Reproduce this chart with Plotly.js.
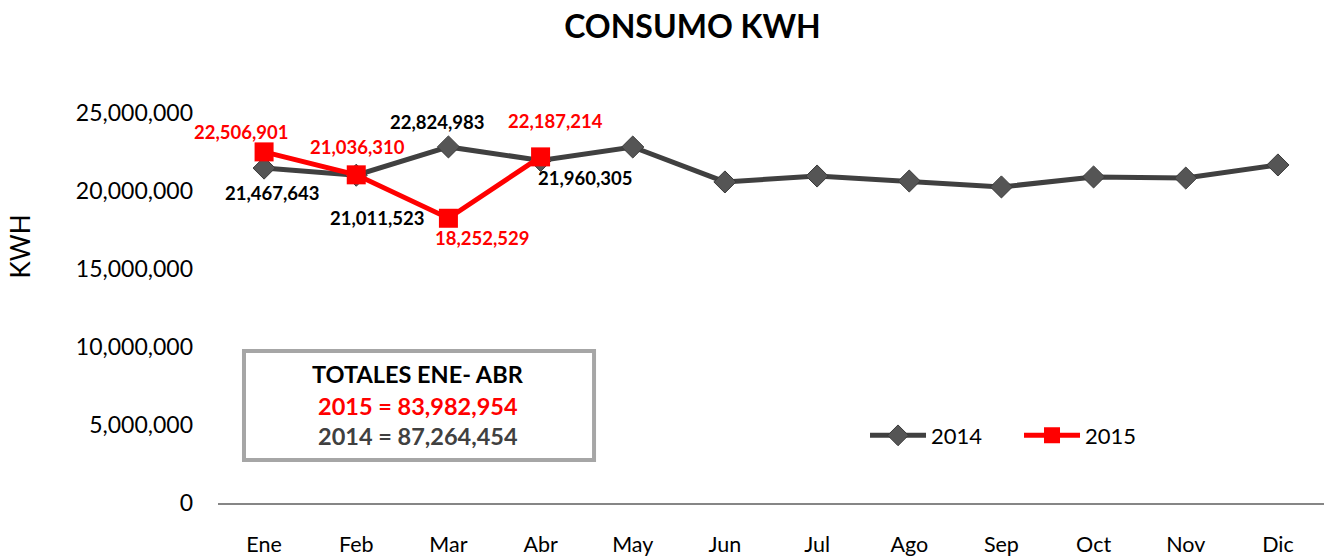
<!DOCTYPE html>
<html>
<head>
<meta charset="utf-8">
<script src="https://cdn.plot.ly/plotly-3.0.1.min.js"></script>
<style>html,body{margin:0;padding:0;background:#fff;}#chart{width:1324px;height:559px;}</style>
</head>
<body>
<div id="chart"></div>
<script>
const months = ['Ene','Feb','Mar','Abr','May','Jun','Jul','Ago','Sep','Oct','Nov','Dic'];
const kwh2014 = [21467643, 21011523, 22824983, 21960305, 22820000, 20580000, 20960000, 20640000, 20260000, 20900000, 20830000, 21670000];
const kwh2015 = [22506901, 21036310, 18252529, 22187214];
const labeled2014 = 4; // first months carrying value labels

// label offsets (pixels) relative to each point
const off2014 = [[8, -25], [21, -43], [-11, 25], [45, -18]];
const off2015 = [[-23, 20], [1, 28], [34, -20], [15, 36]];

const fmt = v => v.toLocaleString('en-US');
const sum = a => a.reduce((s, v) => s + v, 0);
const total2014 = sum(kwh2014.slice(0, kwh2015.length));
const total2015 = sum(kwh2015);

const FONT = 'Lato, "Open Sans", sans-serif';
const GRAY = '#404040';
const RED = '#ff0000';

const traces = [
  {
    x: months, y: kwh2014, name: '2014', type: 'scatter', mode: 'lines+markers',
    line: {color: GRAY, width: 5},
    marker: {symbol: 'diamond', size: 17, color: '#555555', line: {color: '#3a3a3a', width: 1}},
    hoverinfo: 'x+y'
  },
  {
    x: months.slice(0, kwh2015.length), y: kwh2015, name: '2015', type: 'scatter', mode: 'lines+markers',
    line: {color: RED, width: 5},
    marker: {symbol: 'square', size: 19, color: RED},
    hoverinfo: 'x+y'
  }
];

const annotations = [];
for (let i = 0; i < labeled2014; i++) {
  annotations.push({x: months[i], y: kwh2014[i], xref: 'x', yref: 'y', text: fmt(kwh2014[i]),
    showarrow: false, xshift: off2014[i][0], yshift: off2014[i][1], xanchor: 'center', yanchor: 'middle',
    font: {family: FONT, size: 18.5, color: '#000000', weight: 'bold'}});
}
for (let i = 0; i < kwh2015.length; i++) {
  annotations.push({x: months[i], y: kwh2015[i], xref: 'x', yref: 'y', text: fmt(kwh2015[i]),
    showarrow: false, xshift: off2015[i][0], yshift: off2015[i][1], xanchor: 'center', yanchor: 'middle',
    font: {family: FONT, size: 18.5, color: RED, weight: 'bold'}});
}
// y axis title
annotations.push({x: -0.179, y: 0.658, xref: 'paper', yref: 'paper', text: 'KWH', textangle: -90,
  xanchor: 'center', yanchor: 'middle',
  showarrow: false, font: {family: FONT, size: 26, color: '#000000'}});
// totals box text
const boxText = [
  {y: 0.330, text: 'TOTALES ENE- ABR', color: '#000000'},
  {y: 0.248, text: '2015 = ' + fmt(total2015), color: RED},
  {y: 0.171, text: '2014 = ' + fmt(total2014), color: GRAY}
];
boxText.forEach(b => annotations.push({x: 0.181, y: b.y, xref: 'paper', yref: 'paper', text: b.text,
  xanchor: 'center', yanchor: 'middle', showarrow: false,
  font: {family: FONT, size: 23.5, color: b.color, weight: 'bold'}}));

const layout = {
  width: 1324, height: 559,
  margin: {l: 218, r: 0, t: 113, b: 56},
  paper_bgcolor: '#ffffff', plot_bgcolor: '#ffffff',
  font: {family: FONT, color: '#000000'},
  title: {text: 'CONSUMO KWH', x: 0.523, xref: 'container', xanchor: 'center', y: 0.952, yref: 'container', yanchor: 'middle',
    font: {family: FONT, size: 32, color: '#000000', weight: 'bold'}},
  xaxis: {type: 'category', range: [-0.5, 11.5], showgrid: false, zeroline: false,
    showline: true, linecolor: '#868686', linewidth: 2, ticks: '',
    tickfont: {family: FONT, size: 21.5, color: '#000000'}, ticklabelstandoff: 21, fixedrange: true},
  yaxis: {range: [0, 25000000], dtick: 5000000, tickformat: ',d', showgrid: false, zeroline: false,
    showline: false, ticks: '', tickfont: {family: FONT, size: 23, color: '#000000'},
    ticklabelstandoff: 24, fixedrange: true},
  showlegend: true,
  legend: {orientation: 'h', x: 0.585, y: 0.173, xanchor: 'left', yanchor: 'middle',
    font: {family: FONT, size: 22, color: '#000000'}, bgcolor: 'rgba(0,0,0,0)', itemwidth: 56,
    entrywidth: 83, entrywidthmode: 'pixels'},
  shapes: [{type: 'rect', xref: 'paper', yref: 'paper', x0: 0.0235, x1: 0.340, y0: 0.110, y1: 0.390,
    line: {color: '#a6a6a6', width: 4}, fillcolor: '#ffffff', layer: 'below'}],
  annotations: annotations
};

Plotly.newPlot('chart', traces, layout, {displayModeBar: false, staticPlot: true});
</script>
</body>
</html>
